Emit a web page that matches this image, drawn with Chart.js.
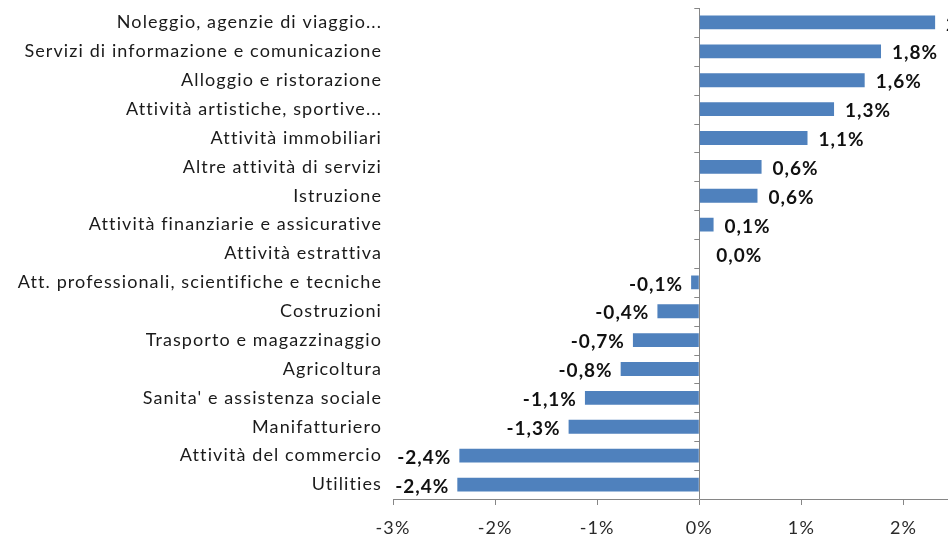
<!DOCTYPE html>
<html>
<head>
<meta charset="utf-8">
<script src="https://cdn.jsdelivr.net/npm/chart.js@4"></script>
<style>
  html, body { margin: 0; padding: 0; background: #fff; overflow: hidden; }
  #wrap { width: 1030px; height: 535px; }
</style>
</head>
<body>
<div id="wrap"><canvas id="barChart"></canvas></div>
<script>
const categories = [
    'Noleggio, agenzie di viaggio...',
    'Servizi di informazione e comunicazione',
    'Alloggio e ristorazione',
    'Attività artistiche, sportive...',
    'Attività immobiliari',
    'Altre attività di servizi',
    'Istruzione',
    'Attività finanziarie e assicurative',
    'Attività estrattiva',
    'Att. professionali, scientifiche e tecniche',
    'Costruzioni',
    'Trasporto e magazzinaggio',
    'Agricoltura',
    "Sanita' e assistenza sociale",
    'Manifatturiero',
    'Attività del commercio',
    'Utilities'
]
const values = [2.31, 1.78, 1.62, 1.32, 1.06, 0.61, 0.57, 0.14, 0.0, -0.08, -0.41, -0.65, -0.77, -1.12, -1.28, -2.35, -2.37]
const tickValues = [-3, -2, -1, 0, 1, 2, 3]

const axisGrey = '#868686'
const barBlue = '#4f81bd'

function fmt(v) {
    return v.toFixed(1).replace('.', ',') + '%'
}

// spaziatura lettere come nell'originale
const spacing = {
    id: 'spacing',
    beforeDraw(chart) { chart.ctx.letterSpacing = '1.1px' },
    afterDraw(chart) { chart.ctx.letterSpacing = '0px' }
}

// etichette valori accanto alle barre
const valueLabels = {
    id: 'valueLabels',
    afterDatasetsDraw(chart) {
        let ctx = chart.ctx
        let meta = chart.getDatasetMeta(0)
        let zero = chart.scales.x.getPixelForValue(0)
        ctx.save()
        ctx.font = 'bold 19px Lato'
        ctx.letterSpacing = '1px'
        ctx.fillStyle = '#111'
        ctx.textBaseline = 'middle'
        meta.data.forEach((bar, i) => {
            let v = values[i]
            if (v >= 0) {
                ctx.textAlign = 'left'
                ctx.fillText(fmt(v), Math.max(bar.x + 11, zero + 17), bar.y + 2)
            } else {
                ctx.textAlign = 'right'
                ctx.fillText(fmt(v), bar.x - 8, bar.y + 2)
            }
        })
        ctx.restore()
    }
}

// piccoli segni sull'asse verticale tra le categorie
const zeroAxisTicks = {
    id: 'zeroAxisTicks',
    afterDatasetsDraw(chart) {
        let ctx = chart.ctx
        let y = chart.scales.y
        let x0 = chart.scales.x.getPixelForValue(0)
        let step = y.getPixelForValue(1) - y.getPixelForValue(0)
        ctx.save()
        ctx.strokeStyle = axisGrey
        ctx.lineWidth = 1
        for (let i = 0; i < categories.length; i++) {
            let py = Math.round(y.getPixelForValue(0) - step / 2 + i * step) + 0.5
            ctx.beginPath()
            ctx.moveTo(x0 - 5, py)
            ctx.lineTo(x0, py)
            ctx.stroke()
        }
        ctx.restore()
    }
}

let ctx = document.getElementById('barChart').getContext('2d')
new Chart(ctx, {
    type: 'bar',
    data: {
        labels: categories,
        datasets: [{
            data: values,
            backgroundColor: barBlue,
            borderWidth: 0,
            categoryPercentage: 1,
            barPercentage: 0.48
        }]
    },
    options: {
        indexAxis: 'y',
        responsive: true,
        maintainAspectRatio: false,
        animation: false,
        layout: { padding: { top: 8, right: 19, left: 0, bottom: 0 } },
        plugins: {
            legend: { display: false },
            tooltip: { enabled: false }
        },
        scales: {
            x: {
                min: -3,
                max: 3,
                afterBuildTicks: (s) => { s.ticks = tickValues.map(v => ({ value: v })) },
                afterFit: (s) => { s.height = 36 },
                grid: {
                    color: (c) => (c.tick && c.tick.value === 0) ? axisGrey : 'rgba(0,0,0,0)',
                    tickColor: axisGrey,
                    tickLength: 6,
                    drawTicks: true
                },
                border: { display: true, color: axisGrey },
                ticks: {
                    color: '#2a2a2a',
                    padding: 12,
                    font: { family: 'Lato', size: 18 },
                    callback: (v) => v + '%'
                }
            },
            y: {
                afterFit: (s) => {
                    s.width = 393
                    s.paddingTop = 0
                    s.paddingBottom = 0
                },
                grid: { display: false },
                border: { display: false },
                ticks: {
                    color: '#1a1a1a',
                    padding: 3,
                    font: { family: 'Lato', size: 18 }
                }
            }
        }
    },
    plugins: [spacing, valueLabels, zeroAxisTicks]
})
</script>
</body>
</html>
